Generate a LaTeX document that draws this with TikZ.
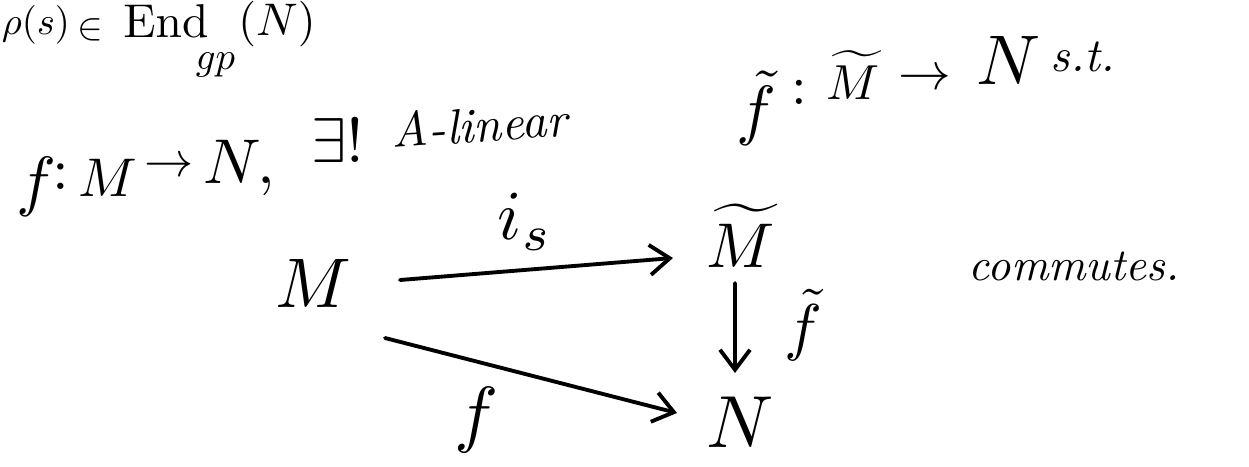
\documentclass[tikz,border=0pt]{standalone}
\usepackage{amsmath}
\usetikzlibrary{arrows.meta}

\begin{document}
\begin{tikzpicture}[fs/.style={scale=#1/10, inner sep=0pt},
    arr/.style={line width=2.2pt, line cap=round, -{Straight Barb[length=4mm,width=6mm]}}]
    \useasboundingbox (0,0) rectangle (24.98,9.32);
    \clip (0,0) rectangle (24.98,9.32);
    % TOP LINE : at the page edge
    \node[fs=22, anchor=base west] (rho) at (0.02,8.62) {$\rho(s)$};
    \node[fs=22] (elem) at (1.8,8.72) {$\in$};
    \node[fs=27, anchor=base west] (End) at (2.45,8.56) {$\mathrm{End}$};
    \node[fs=22, anchor=base west] (gp) at (3.9,7.92) {$gp$};
    \node[fs=26, anchor=base west] (arg) at (4.75,8.6) {$(N)$};
    % SECOND LINE
    \node[fs=38, anchor=base west] (f) at (0.3,5.24) {$f$};
    \node[fs=34] (colA) at (1.22,5.78) {$:$};
    \node[fs=31, anchor=base west] (MA) at (1.55,5.38) {$M$};
    \node[fs=28] (toA) at (3.38,5.98) {$\to$};
    \node[fs=36, anchor=base west] (NA) at (4.05,5.64) {$N,$};
    \node[fs=36, anchor=base west] (ex) at (6.2,6.06) {$\exists!$};
    \node[fs=28, anchor=base west, rotate=4] (lin) at (7.84,6.36) {\textit{A-linear}};
    \node[fs=38, anchor=base west] (ft) at (14.7,6.66) {$\tilde{f}$};
    \node[fs=32] (colB) at (15.98,7.48) {$:$};
    \node[fs=28, anchor=base west] (MB) at (16.5,7.32) {$\widetilde{M}$};
    \node[fs=30] (toB) at (18.5,7.72) {$\to$};
    \node[fs=40, anchor=base west] (NB) at (19.5,7.62) {$N$};
    \node[fs=27, anchor=base west] (st) at (21.0,7.88) {\textit{s.t.}};
    % DIAGRAM
    \node[fs=40] (M) at (6.26,3.66) {$M$};
    \node[fs=36, anchor=base] (Mt) at (14.82,3.98) {$\widetilde{M}$};
    \node[fs=42, anchor=base] (N) at (14.8,0.38) {$N$};
    \node[fs=40] (is) at (10.5,4.88) {$i_s$};
    \node[fs=36] (ftl) at (16.06,2.82) {$\tilde{f}$};
    \node[fs=42] (fl) at (9.54,0.92) {$f$};
    \node[fs=26, anchor=base west] (comm) at (19.36,3.72) {\textit{commutes.}};
    \draw[arr] ([shift={(1.74,0.06)}]M.center) -- ([shift={(-1.36,0.18)}]Mt.base);
    \draw[arr] ([shift={(-0.12,-0.32)}]Mt.base) -- ([shift={(-0.1,1.48)}]N.base);
    \draw[arr] ([shift={(1.44,-1.10)}]M.center) -- ([shift={(-1.26,0.68)}]N.base);
  \end{tikzpicture}
\end{document}
